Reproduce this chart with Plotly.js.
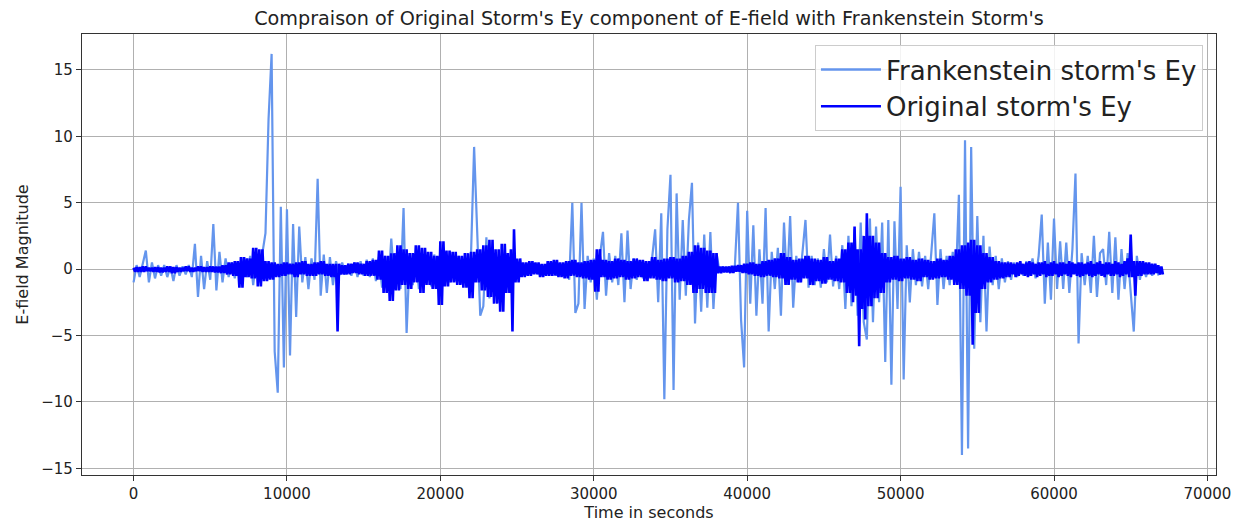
<!DOCTYPE html>
<html>
<head>
<meta charset="utf-8">
<script src="https://cdn.plot.ly/plotly-3.0.1.min.js"></script>
<style>html,body{margin:0;padding:0;background:#fff;}#chart{width:1239px;height:527px;}</style>
</head>
<body>
<div id="chart"></div>
<script>
// Sampling interval of both series, seconds
const sampleInterval = 200;

// Frankenstein storm's Ey
const frankensteinEy = [
 -1.0, 0.3, -0.6, 0.4, 1.4, -1.0, 0.5, -0.7, 0.3, -0.5,
 0.3, -0.6, 0.2, -0.9, 0.3, -0.5, 0.2, -0.4, 0.3, -0.6,
 1.9, -2.1, 1.0, -1.5, 0.6, -0.8, 3.4, -1.6, 1.3, -1.0,
 0.8, -0.6, 0.5, -0.7, 0.6, -0.8, 0.9, -0.6, 1.0, -1.2,
 0.8, -1.0, 1.2, 2.7, 11.3, 16.2, -6.2, -9.3, 4.7, -7.4,
 4.5, -6.5, 3.4, -3.6, 3.2, -1.0, 0.9, -1.5, 0.8, -0.8,
 6.8, -2.0, 1.1, -1.8, 0.9, -1.2, 0.6, -0.5, 0.5, -0.4,
 0.4, -0.5, 0.5, -0.6, 0.6, -0.5, 0.7, -0.6, 0.8, -0.9,
 0.9, -1.4, 1.0, -1.4, 2.3, -1.0, 1.2, -1.5, 4.6, -4.8,
 1.0, -1.2, 1.0, -1.5, 1.2, -1.0, 0.9, -1.3, 1.1, -0.9,
 1.0, -1.2, 0.8, -1.0, 1.1, -0.9, 1.0, -1.1, 0.9, -1.0,
 1.2, 9.2, 3.4, -3.5, -2.8, 2.4, -2.2, 1.2, -1.0, 0.9,
 -1.2, 1.0, -0.8, 0.7, -0.6, 0.5, -0.4, 0.3, -0.4, 0.4,
 -0.3, 0.4, -0.4, 0.3, -0.4, 0.4, -0.3, 0.4, -0.5, 0.4,
 -0.4, 0.6, -0.8, 5.0, -3.3, -2.6, 5.0, -3.0, 1.0, -1.0,
 0.8, -2.3, 1.0, 2.8, -2.0, 1.2, -1.0, 1.0, -1.2, 2.7,
 -2.5, 2.9, -1.5, 0.8, -0.8, 0.6, -0.7, 0.5, -0.6, 0.8,
 3.0, -2.5, 4.2, -9.8, 3.0, 7.1, -9.1, 5.7, -2.3, 3.7,
 -2.0, 3.7, 6.5, -4.1, 2.0, -3.2, 2.6, -2.9, 2.8, -3.0,
 1.2, -0.2, 0.2, -0.2, 0.2, -0.2, 0.3, 5.0, -3.8, -7.4,
 4.4, -2.6, 3.3, -3.5, 1.5, -2.6, 4.6, -4.7, 1.3, -1.5,
 1.6, -3.5, 3.5, -1.2, 4.0, -2.9, 1.0, -1.0, 1.2, 3.7,
 -1.4, 1.0, -1.2, 0.8, -1.4, 1.5, -1.0, 2.6, -1.3, 1.0,
 -1.5, 1.8, -3.0, 2.5, -2.8, 3.0, -3.5, 3.5, -4.0, -5.3,
 3.8, -4.0, 3.2, -2.5, 3.5, -7.0, 3.7, -8.7, 3.6, -3.0,
 6.2, -8.3, 1.8, -2.5, 1.5, -1.2, 1.3, -1.3, 1.0, -1.5,
 1.2, 4.2, -2.7, 1.5, -1.5, 1.0, -1.2, 1.3, -1.0, 5.6,
 -14.0, 9.7, -13.5, 9.2, -6.0, 4.0, -4.0, 2.5, -4.7, 1.7,
 -1.2, 1.0, -1.5, 0.8, -1.0, 0.6, -0.8, 0.5, -0.6, 0.5,
 -0.5, 0.6, -0.5, 0.8, -0.7, 1.0, 4.1, -2.6, 2.0, -2.3,
 3.8, -1.5, 2.1, -1.5, 2.0, -1.8, 1.5, 7.2, -5.6, 1.2,
 -1.2, 1.0, -1.8, 2.5, -2.1, 1.2, 1.5, -1.2, 2.8, -1.8,
 2.4, -2.3, 1.5, -1.5, 1.2, -2.0, -4.7, 1.0, -0.8, 0.5,
 -0.6, 0.4, -0.5, 0.3, -0.4, -0.3
];

// Original storm's Ey: per sample, the upper swing (at the sample time)
// and the lower swing (half a sample later)
const originalUpper = [
 0.1, 0.15, 0.15, 0.2, 0.2, 0.1, 0.1, 0.15, 0.15, 0.1,
 0.1, 0.2, 0.2, 0.15, 0.15, 0.1, 0.1, 0.2, 0.2, 0.1,
 0.1, 0.2, 0.2, 0.15, 0.15, 0.2, 0.2, 0.2, 0.2, 0.3,
 0.3, 0.5, 0.5, 0.6, 0.6, 0.9, 0.9, 0.8, 0.8, 1.6,
 1.6, 1.5, 1.5, 0.6, 0.6, 0.5, 0.5, 0.4, 0.4, 0.5,
 0.5, 0.4, 0.4, 0.5, 0.5, 0.6, 0.6, 0.4, 0.4, 0.5,
 0.5, 0.6, 0.6, 0.4, 0.4, 0.4, 0.4, 0.4, 0.3, 0.3,
 0.4, 0.4, 0.5, 0.5, 0.4, 0.4, 0.6, 0.6, 0.7, 0.7,
 1.4, 1.4, 1.0, 1.0, 1.2, 1.2, 1.8, 1.8, 1.5, 1.5,
 1.2, 1.2, 1.8, 1.8, 1.6, 1.6, 1.3, 1.3, 1.0, 1.0,
 2.1, 2.1, 1.4, 1.4, 1.3, 1.3, 1.0, 1.0, 1.2, 1.2,
 1.3, 1.3, 1.5, 1.5, 1.8, 1.8, 2.2, 2.2, 1.5, 1.5,
 1.9, 1.9, 1.2, 1.5, 3.0, 0.8, 0.8, 0.5, 0.5, 0.6,
 0.6, 0.5, 0.5, 0.4, 0.4, 0.6, 0.6, 0.7, 0.7, 0.5,
 0.5, 0.6, 0.6, 0.7, 0.7, 0.5, 0.5, 0.6, 0.6, 0.7,
 0.7, 1.5, 1.5, 0.7, 0.7, 0.6, 0.6, 0.8, 0.8, 0.7,
 0.7, 0.6, 0.6, 0.8, 0.8, 0.7, 0.7, 0.6, 0.6, 0.9,
 0.9, 0.7, 0.7, 0.8, 0.8, 0.9, 0.9, 0.8, 0.8, 1.0,
 1.0, 1.3, 1.3, 1.8, 1.8, 1.6, 1.6, 1.4, 1.4, 1.2,
 1.2, 0.2, 0.2, 0.2, 0.2, 0.25, 0.25, 0.3, 0.3, 0.4,
 0.4, 0.5, 0.5, 0.4, 0.4, 0.6, 0.6, 0.7, 0.7, 0.8,
 0.8, 1.2, 1.2, 0.9, 0.9, 0.7, 0.7, 0.8, 0.8, 1.0,
 1.0, 0.8, 0.8, 0.7, 0.7, 0.9, 0.9, 0.6, 0.6, 0.8,
 0.8, 1.5, 1.5, 2.0, 2.0, 3.2, 1.5, 1.5, 2.5, 4.2,
 2.5, 2.5, 2.0, 2.0, 1.2, 1.2, 0.9, 0.9, 1.0, 1.0,
 0.8, 0.8, 0.9, 0.9, 0.7, 0.7, 0.8, 0.8, 0.7, 0.7,
 0.6, 0.6, 0.8, 0.8, 0.7, 0.7, 1.0, 1.0, 1.5, 1.5,
 1.8, 1.8, 2.0, 2.2, 2.2, 1.8, 1.8, 1.2, 1.2, 0.9,
 0.9, 0.6, 0.6, 0.5, 0.5, 0.5, 0.5, 0.4, 0.5, 0.6,
 0.4, 0.5, 0.6, 0.5, 0.4, 0.5, 0.5, 0.6, 0.4, 0.5,
 0.6, 0.4, 0.5, 0.5, 0.4, 0.6, 0.5, 0.4, 0.5, 0.5,
 0.4, 0.5, 0.6, 0.4, 0.5, 0.6, 0.4, 0.5, 0.5, 0.4,
 0.6, 0.5, 0.4, 0.6, 0.8, 2.6, 0.6, 0.6, 0.6, 0.6,
 0.5, 0.5, 0.4, 0.4, 0.3, 0.2
];
const originalLower = [
 -0.2, -0.2, -0.2, -0.2, -0.15, -0.15, -0.2, -0.2, -0.25, -0.25,
 -0.2, -0.2, -0.3, -0.3, -0.2, -0.2, -0.15, -0.15, -0.2, -0.2,
 -0.15, -0.15, -0.2, -0.2, -0.2, -0.2, -0.25, -0.25, -0.3, -0.3,
 -0.4, -0.4, -0.5, -0.5, -1.4, -1.4, -0.6, -0.6, -0.7, -0.7,
 -1.3, -1.3, -0.9, -0.9, -0.8, -0.8, -0.6, -0.6, -0.5, -0.5,
 -0.4, -0.4, -0.6, -0.6, -0.4, -0.4, -0.5, -0.5, -0.5, -0.5,
 -0.4, -0.4, -0.5, -0.5, -0.6, -0.6, -4.7, -0.4, -0.4, -0.4,
 -0.4, -0.3, -0.3, -0.4, -0.4, -0.5, -0.5, -0.5, -0.5, -0.8,
 -0.8, -1.8, -1.8, -2.4, -2.4, -1.6, -1.6, -1.2, -1.2, -1.5,
 -1.5, -1.0, -1.0, -1.8, -1.8, -1.2, -1.2, -1.5, -1.5, -2.7,
 -2.7, -1.3, -1.3, -1.0, -1.0, -1.2, -1.2, -1.4, -1.4, -2.2,
 -2.2, -1.0, -1.0, -1.6, -1.6, -2.1, -2.1, -2.6, -2.6, -3.2,
 -3.2, -1.8, -1.8, -4.7, -1.0, -1.0, -0.6, -0.6, -0.5, -0.5,
 -0.4, -0.4, -0.6, -0.6, -0.5, -0.5, -0.5, -0.5, -0.6, -0.6,
 -0.7, -0.7, -0.5, -0.5, -0.6, -0.6, -0.7, -0.7, -0.8, -0.8,
 -1.7, -1.7, -0.6, -0.6, -0.8, -0.8, -0.7, -0.7, -0.6, -0.6,
 -0.8, -0.8, -0.7, -0.7, -0.6, -0.6, -0.9, -0.9, -0.7, -0.7,
 -0.8, -0.8, -0.9, -0.9, -0.7, -0.7, -1.0, -1.0, -0.9, -0.9,
 -1.2, -1.2, -1.8, -1.8, -1.5, -1.5, -1.8, -1.8, -1.8, -1.8,
 -0.3, -0.3, -0.25, -0.25, -0.3, -0.3, -0.2, -0.2, -0.3, -0.3,
 -0.4, -0.4, -0.5, -0.5, -0.6, -0.6, -0.5, -0.5, -0.6, -0.6,
 -0.7, -0.7, -1.2, -1.2, -0.8, -0.8, -1.0, -1.0, -0.7, -0.7,
 -1.2, -1.2, -0.9, -0.9, -1.1, -1.1, -0.8, -0.8, -0.9, -0.9,
 -1.0, -1.0, -1.8, -1.8, -2.5, -2.0, -5.8, -3.0, -3.8, -2.8,
 -2.8, -2.2, -2.2, -1.8, -1.8, -1.0, -1.0, -0.8, -0.8, -0.9,
 -0.9, -0.7, -0.7, -0.8, -0.8, -0.9, -0.9, -0.6, -0.6, -0.8,
 -0.8, -0.7, -0.7, -0.6, -0.6, -0.8, -0.8, -1.2, -1.2, -1.5,
 -1.5, -2.0, -2.0, -5.7, -3.3, -3.3, -1.5, -1.5, -1.0, -1.0,
 -0.8, -0.8, -0.7, -0.7, -0.6, -0.6, -0.4, -0.6, -0.5, -0.4,
 -0.5, -0.6, -0.5, -0.4, -0.6, -0.5, -0.4, -0.6, -0.5, -0.5,
 -0.4, -0.6, -0.5, -0.4, -0.5, -0.6, -0.4, -0.5, -0.6, -0.5,
 -0.4, -0.5, -0.6, -0.5, -0.4, -0.5, -0.6, -0.4, -0.5, -0.5,
 -0.4, -0.6, -0.5, -0.4, -0.6, -0.6, -2.0, -0.5, -0.5, -0.4,
 -0.4, -0.4, -0.4, -0.3, -0.4, -0.4
];

const seriesNames = ["Frankenstein storm's Ey", "Original storm's Ey"];
const seriesColors = ['#6495ED', '#0000FF'];
const xTickValues = [0, 10000, 20000, 30000, 40000, 50000, 60000, 70000];
const yTickValues = [-15, -10, -5, 0, 5, 10, 15];

const timeFrank = frankensteinEy.map((_, i) => i * sampleInterval);
const timeOrig = [], valOrig = [];
originalUpper.forEach((u, i) => {
  timeOrig.push(i * sampleInterval, i * sampleInterval + sampleInterval / 2);
  valOrig.push(u, originalLower[i]);
});

const FONT = 'DejaVu Sans, Liberation Sans, sans-serif';

const traces = [
  {x: timeFrank, y: frankensteinEy, type: 'scatter', mode: 'lines', showlegend: false,
   name: seriesNames[0], line: {color: seriesColors[0], width: 2.2}},
  {x: timeOrig, y: valOrig, type: 'scatter', mode: 'lines', showlegend: false,
   name: seriesNames[1], line: {color: seriesColors[1], width: 2.6}},
  // legend keys only (no data)
  {x: [null], y: [null], type: 'scatter', mode: 'lines', name: seriesNames[0],
   line: {color: seriesColors[0], width: 2.5}},
  {x: [null], y: [null], type: 'scatter', mode: 'lines', name: seriesNames[1],
   line: {color: seriesColors[1], width: 2.5}}
];

const axisCommon = {
  showgrid: true, gridcolor: '#b0b0b0', gridwidth: 1,
  showline: true, mirror: true, linecolor: '#333', linewidth: 1.2,
  ticks: 'outside', ticklen: 5, tickwidth: 1, tickcolor: '#333',
  tickfont: {family: FONT, size: 15, color: '#222'},
  zeroline: false
};

const layout = {
  width: 1239, height: 527,
  margin: {l: 82, r: 23, t: 34, b: 52},
  paper_bgcolor: '#fff', plot_bgcolor: '#fff',
  font: {family: FONT, color: '#222'},
  title: {text: "Compraison of Original Storm's Ey component of E-field with Frankenstein Storm's",
          font: {family: FONT, size: 19.2, color: '#222'},
          x: 0.5, xref: 'paper', y: 0.966, yref: 'container', yanchor: 'middle'},
  xaxis: Object.assign({}, axisCommon, {
    range: [-3360, 70560], tickvals: xTickValues, ticktext: xTickValues.map(String),
    title: {text: 'Time in seconds', font: {family: FONT, size: 16, color: '#222'}, standoff: 4}
  }),
  yaxis: Object.assign({}, axisCommon, {
    range: [-15.5, 17.7], tickvals: yTickValues,
    title: {text: 'E-field Magnitude', font: {family: FONT, size: 16, color: '#222'}, standoff: 8}
  }),
  showlegend: true,
  legend: {x: 0.9885, y: 0.975, xanchor: 'right', yanchor: 'top',
           font: {family: FONT, size: 26, color: '#222'},
           bgcolor: 'rgba(255,255,255,0.85)', bordercolor: '#cccccc', borderwidth: 1,
           itemwidth: 60, tracegroupgap: 0}
};

Plotly.newPlot('chart', traces, layout, {displayModeBar: false, staticPlot: true});
</script>
</body>
</html>
